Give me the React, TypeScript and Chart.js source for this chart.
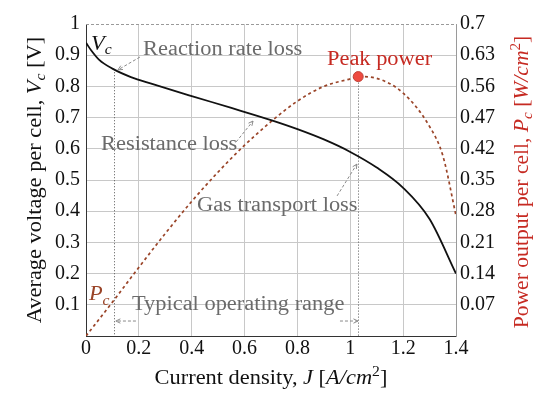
import React, { useEffect, useRef } from 'react';
import { Chart, registerables } from 'chart.js';

Chart.register(...registerables);

// ---- Data ----
const voltageJ = [0, 0.02, 0.05, 0.1, 0.17, 0.25, 0.4, 0.55, 0.7, 0.8, 0.9, 1.0, 1.1, 1.2, 1.3, 1.4];
const voltage = [0.94, 0.915, 0.885, 0.857, 0.83, 0.808, 0.769, 0.731, 0.692, 0.663, 0.63, 0.59, 0.54, 0.475, 0.375, 0.2];

const powerJ = [0, 0.1, 0.2, 0.3, 0.4, 0.5, 0.6, 0.7, 0.8, 0.9, 1.0, 1.03, 1.1, 1.2, 1.3, 1.35, 1.4];
const power = [0, 0.076, 0.154, 0.23, 0.302, 0.368, 0.428, 0.481, 0.527, 0.56, 0.577, 0.582, 0.578, 0.545, 0.47, 0.405, 0.27];

const xTicks = [0, 0.2, 0.4, 0.6, 0.8, 1.0, 1.2, 1.4];
const xTickLabels = ['0', '0.2', '0.4', '0.6', '0.8', '1', '1.2', '1.4'];
const leftTicks = [0, 0.1, 0.2, 0.3, 0.4, 0.5, 0.6, 0.7, 0.8, 0.9, 1.0];
const leftTickLabels = ['', '0.1', '0.2', '0.3', '0.4', '0.5', '0.6', '0.7', '0.8', '0.9', '1'];
const rightTicks = [0, 0.07, 0.14, 0.21, 0.28, 0.35, 0.42, 0.49, 0.56, 0.63, 0.7];
const rightTickLabels = ['', '0.07', '0.14', '0.21', '0.28', '0.35', '0.42', '0.47', '0.56', '0.63', '0.7'];

const peakJ = 1.03;
const peakP = 0.582;
const rangeStartJ = 0.105;
const rangeStartV = 0.855;

const FONT = '"Liberation Serif", "DejaVu Serif", serif';
const GRAY_TEXT = '#6b6b6b';
const RED_TEXT = '#c62a22';
const BROWN = '#9a4428';

type Seg = { t: string; i?: boolean; sub?: boolean; sup?: boolean };

function drawRich(
  ctx: CanvasRenderingContext2D,
  segs: Seg[],
  x: number,
  y: number,
  size: number,
  color: string,
  align: 'left' | 'center',
  rot = 0,
  sx = 1.12
) {
  ctx.save();
  ctx.translate(x, y);
  if (rot) ctx.rotate(rot);
  ctx.scale(sx, 1);
  ctx.fillStyle = color;
  ctx.textBaseline = 'alphabetic';
  ctx.textAlign = 'left';
  const fontFor = (s: Seg) =>
    `${s.i ? 'italic ' : ''}${s.sub || s.sup ? Math.round(size * 0.7) : size}px ${FONT}`;
  const widths = segs.map((s) => {
    ctx.font = fontFor(s);
    return ctx.measureText(s.t).width;
  });
  const total = widths.reduce((a, b) => a + b, 0);
  let cx = align === 'center' ? -total / 2 : 0;
  segs.forEach((s, k) => {
    ctx.font = fontFor(s);
    const dy = s.sub ? size * 0.22 : s.sup ? -size * 0.42 : 0;
    ctx.fillText(s.t, cx, dy);
    cx += widths[k];
  });
  ctx.restore();
}

function arrow(ctx: CanvasRenderingContext2D, x1: number, y1: number, x2: number, y2: number) {
  ctx.save();
  ctx.strokeStyle = '#8a8a8a';
  ctx.lineWidth = 1;
  ctx.setLineDash([3, 2]);
  ctx.beginPath();
  ctx.moveTo(x1, y1);
  ctx.lineTo(x2, y2);
  ctx.stroke();
  ctx.setLineDash([]);
  const ang = Math.atan2(y2 - y1, x2 - x1);
  const L = 5;
  ctx.beginPath();
  ctx.moveTo(x2 - L * Math.cos(ang - 0.45), y2 - L * Math.sin(ang - 0.45));
  ctx.lineTo(x2, y2);
  ctx.lineTo(x2 - L * Math.cos(ang + 0.45), y2 - L * Math.sin(ang + 0.45));
  ctx.stroke();
  ctx.restore();
}

const annotationPlugin = {
  id: 'annotations',
  beforeDatasetsDraw(chart: any) {
    const { ctx, chartArea: a, scales } = chart;
    const x = scales.x, y = scales.y, y1 = scales.y1;
    ctx.save();
    // dashed top border
    ctx.strokeStyle = '#9a9a9a';
    ctx.lineWidth = 1;
    ctx.setLineDash([3, 2]);
    ctx.beginPath();
    ctx.moveTo(a.left, a.top + 0.5);
    ctx.lineTo(a.right, a.top + 0.5);
    ctx.stroke();
    // dotted verticals of operating range
    ctx.strokeStyle = '#555';
    ctx.setLineDash([1, 2]);
    const lx = Math.round(x.getPixelForValue(rangeStartJ)) + 0.5;
    ctx.beginPath();
    ctx.moveTo(lx, y.getPixelForValue(rangeStartV));
    ctx.lineTo(lx, a.bottom);
    ctx.stroke();
    const rx = Math.round(x.getPixelForValue(peakJ)) + 0.5;
    ctx.beginPath();
    ctx.moveTo(rx, y1.getPixelForValue(peakP));
    ctx.lineTo(rx, a.bottom);
    ctx.stroke();
    ctx.restore();
  },
  afterDatasetsDraw(chart: any) {
    const { ctx, chartArea: a, scales } = chart;
    const x = scales.x, y = scales.y, y1 = scales.y1;
    const px = (v: number) => x.getPixelForValue(v);
    const py = (v: number) => y.getPixelForValue(v);

    // peak dot
    ctx.save();
    ctx.beginPath();
    ctx.arc(px(peakJ), y1.getPixelForValue(peakP), 5, 0, Math.PI * 2);
    ctx.fillStyle = '#ee4a40';
    ctx.fill();
    ctx.strokeStyle = '#c0443a';
    ctx.lineWidth = 1;
    ctx.stroke();
    ctx.restore();

    // arrows
    arrow(ctx, px(0.204), py(0.894), px(0.121), py(0.853));
    arrow(ctx, px(0.568), py(0.622), px(0.632), py(0.689));
    arrow(ctx, px(0.95), py(0.449), px(1.025), py(0.551));
    arrow(ctx, px(0.189), py(0.048), px(0.113), py(0.048));
    arrow(ctx, px(0.961), py(0.048), px(1.029), py(0.048));

    // labels
    drawRich(ctx, [{ t: 'V', i: true }, { t: 'c', i: true, sub: true }], px(0.019), py(0.917), 20, '#111', 'left');
    drawRich(ctx, [{ t: 'P', i: true }, { t: 'c', i: true, sub: true }], px(0.011), py(0.115), 20, BROWN, 'left');
    drawRich(ctx, [{ t: 'Reaction rate loss' }], px(0.216), py(0.901), 20, GRAY_TEXT, 'left');
    drawRich(ctx, [{ t: 'Resistance loss' }], px(0.057), py(0.596), 20, GRAY_TEXT, 'left');
    drawRich(ctx, [{ t: 'Gas transport loss' }], px(0.42), py(0.4), 20, GRAY_TEXT, 'left');
    drawRich(ctx, [{ t: 'Typical operating range' }], px(0.174), py(0.083), 20, GRAY_TEXT, 'left');
    drawRich(ctx, [{ t: 'Peak power' }], px(0.912), py(0.869), 20, RED_TEXT, 'left');

    // axis titles
    const cxm = (a.left + a.right) / 2;
    const cym = (a.top + a.bottom) / 2;
    drawRich(
      ctx,
      [{ t: 'Current density, ' }, { t: 'J', i: true }, { t: ' [' }, { t: 'A/cm', i: true }, { t: '2', sup: true }, { t: ']' }],
      cxm, 384, 20, '#111', 'center'
    );
    drawRich(
      ctx,
      [{ t: 'Average voltage per cell, ' }, { t: 'V', i: true }, { t: 'c', i: true, sub: true }, { t: ' [V]' }],
      41, cym, 20, '#111', 'center', -Math.PI / 2
    );
    drawRich(
      ctx,
      [{ t: 'Power output per cell, ' }, { t: 'P', i: true }, { t: 'c', i: true, sub: true }, { t: ' [' }, { t: 'W/cm', i: true }, { t: '2', sup: true }, { t: ']' }],
      528, cym + 2, 20, RED_TEXT, 'center', -Math.PI / 2, 1.08
    );
  },
};

export default function App() {
  const ref = useRef<HTMLCanvasElement | null>(null);
  useEffect(() => {
    document.body.style.margin = '0';
    if (!ref.current) return;
    const tickFont = { family: FONT, size: 20 };
    const chart = new Chart(ref.current, {
      type: 'line',
      data: {
        datasets: [
          {
            label: 'Vc',
            data: voltageJ.map((j, i) => ({ x: j, y: voltage[i] })),
            yAxisID: 'y',
            borderColor: '#111',
            borderWidth: 1.8,
            pointRadius: 0,
            cubicInterpolationMode: 'monotone',
          },
          {
            label: 'Pc',
            data: powerJ.map((j, i) => ({ x: j, y: power[i] })),
            yAxisID: 'y1',
            borderColor: BROWN,
            borderWidth: 1.7,
            borderDash: [3, 3],
            pointRadius: 0,
            cubicInterpolationMode: 'monotone',
          },
        ],
      },
      options: {
        animation: false,
        responsive: false,
        layout: { padding: { top: 24, left: 0, right: 0, bottom: 0 } },
        plugins: { legend: { display: false }, tooltip: { enabled: false } },
        scales: {
          x: {
            type: 'linear',
            min: 0,
            max: 1.4,
            afterBuildTicks: (s: any) => { s.ticks = xTicks.map((v) => ({ value: v })); },
            afterFit: (s: any) => { s.height = 60; },
            ticks: {
              font: tickFont,
              color: '#111',
              padding: 1,
              maxRotation: 0,
              autoSkip: false,
              callback: (_v: any, i: number) => xTickLabels[i],
            },
            grid: {
              drawTicks: false,
              color: (c: any) => (c.index === 0 || c.index === xTicks.length - 1 ? 'rgba(0,0,0,0)' : '#c8c8c8'),
            },
            border: { color: '#333', width: 1 },
          },
          y: {
            position: 'left',
            min: 0,
            max: 1,
            afterBuildTicks: (s: any) => { s.ticks = leftTicks.map((v) => ({ value: v })); },
            afterFit: (s: any) => { s.width = 86; },
            ticks: {
              font: tickFont,
              color: '#111',
              padding: 6,
              autoSkip: false,
              callback: (_v: any, i: number) => leftTickLabels[i],
            },
            grid: {
              drawTicks: false,
              color: (c: any) => (c.index === 0 || c.index === leftTicks.length - 1 ? 'rgba(0,0,0,0)' : '#c8c8c8'),
            },
            border: { color: '#333', width: 1 },
          },
          y1: {
            position: 'right',
            min: 0,
            max: 0.7,
            afterBuildTicks: (s: any) => { s.ticks = rightTicks.map((v) => ({ value: v })); },
            afterFit: (s: any) => { s.width = 94; },
            ticks: {
              font: tickFont,
              color: '#111',
              padding: 4,
              autoSkip: false,
              callback: (_v: any, i: number) => rightTickLabels[i],
            },
            grid: { display: false, drawTicks: false },
            border: { color: '#9a9a9a', width: 1, dash: [3, 2] },
          },
        },
      },
      plugins: [annotationPlugin],
    } as any);
    return () => chart.destroy();
  }, []);
  return (
    <div style={{ width: 550, height: 396 }}>
      <canvas ref={ref} width={550} height={396} style={{ display: 'block' }} />
    </div>
  );
}
